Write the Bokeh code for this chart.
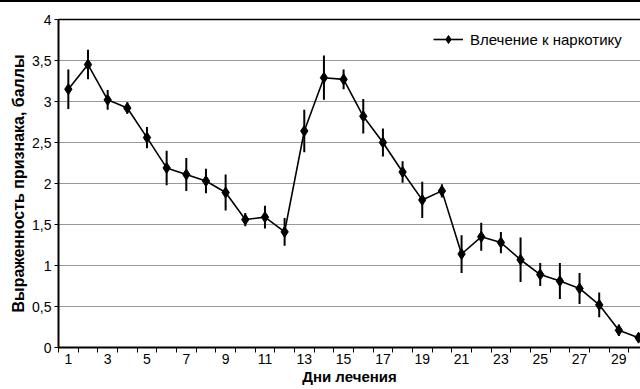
from bokeh.plotting import figure
from bokeh.models import FixedTicker, LinearAxis, CustomJSTickFormatter, Range1d, Legend, LegendItem
from bokeh.embed import file_html
from bokeh.resources import INLINE

days = list(range(1, 31))
means = [3.15, 3.45, 3.02, 2.92, 2.56, 2.19, 2.11, 2.03, 1.89, 1.56,
         1.59, 1.41, 2.64, 3.29, 3.27, 2.82, 2.50, 2.14, 1.80, 1.91,
         1.14, 1.35, 1.28, 1.07, 0.89, 0.81, 0.72, 0.52, 0.21, 0.12]
errors = [0.24, 0.18, 0.12, 0.07, 0.13, 0.21, 0.20, 0.15, 0.22, 0.08,
          0.14, 0.17, 0.26, 0.27, 0.12, 0.21, 0.17, 0.13, 0.22, 0.08,
          0.23, 0.17, 0.13, 0.27, 0.14, 0.22, 0.19, 0.15, 0.07, 0.05]
x_tick_labels = [str(d) for d in range(1, 31, 2)]
y_ticks = [0, 0.5, 1, 1.5, 2, 2.5, 3, 3.5, 4]
series_name = "Влечение к наркотику"
x_title = "Дни лечения"
y_title = "Выраженность признака, баллы"

FONT = "Liberation Sans"

lo = [m - e for m, e in zip(means, errors)]
hi = [m + e for m, e in zip(means, errors)]

p = figure(width=640, height=387, output_backend="svg", toolbar_location=None,
           x_range=Range1d(0.5, 30.1), y_range=Range1d(0, 4),
           min_border_left=58, min_border_top=17, min_border_right=0, min_border_bottom=42)
p.styles = {"border-top": "2px solid black"}
p.outline_line_color = None
p.background_fill_color = "white"
p.border_fill_color = "white"

# error bars
p.segment(x0=days, y0=lo, x1=days, y1=hi, line_color="black", line_width=2)
ln = p.line(days, means, line_color="black", line_width=1.6)
mk = p.scatter(days, means, marker="diamond", size=11, fill_color="black", line_color="black")

# axes
xa = p.xaxis[0]
xa.ticker = FixedTicker(ticks=[int(t) for t in x_tick_labels],
                        minor_ticks=[d + 0.5 for d in range(0, 31)])
xa.major_tick_out = 0
xa.major_tick_in = 0
xa.minor_tick_out = 5
xa.minor_tick_in = 0
xa.minor_tick_line_color = "black"
xa.axis_line_color = "black"
xa.axis_line_width = 2
xa.major_label_text_font = FONT
xa.major_label_text_font_size = "14px"
xa.major_label_text_color = "black"
xa.major_label_standoff = 1
xa.axis_label = x_title
xa.axis_label_text_font = FONT
xa.axis_label_text_font_size = "15px"
xa.axis_label_text_font_style = "bold"
xa.axis_label_text_color = "black"
xa.axis_label_standoff = 1

ya = p.yaxis[0]
ya.ticker = FixedTicker(ticks=y_ticks)
ya.formatter = CustomJSTickFormatter(code="return tick.toString().replace('.', ',');")
ya.major_tick_out = 4
ya.major_tick_in = 0
ya.minor_tick_out = 0
ya.minor_tick_in = 0
ya.major_tick_line_color = "black"
ya.axis_line_color = "black"
ya.axis_line_width = 2
ya.major_label_text_font = FONT
ya.major_label_text_font_size = "14px"
ya.major_label_text_color = "black"
ya.major_label_standoff = 3
ya.axis_label = y_title
ya.axis_label_text_font = FONT
ya.axis_label_text_font_size = "16px"
ya.axis_label_text_font_style = "bold"
ya.axis_label_text_color = "black"
ya.axis_label_standoff = 2

top = LinearAxis(ticker=FixedTicker(ticks=[]), major_label_text_font_size="0px",
                 axis_line_color="black", axis_line_width=1.5,
                 major_tick_line_color=None, minor_tick_line_color=None)
p.add_layout(top, "above")

p.xgrid.grid_line_color = None
p.ygrid.ticker = FixedTicker(ticks=y_ticks)
p.ygrid.grid_line_color = "#999999"
p.ygrid.grid_line_width = 1

legend = Legend(items=[LegendItem(label=series_name, renderers=[ln, mk])],
                location=(375, 298))
legend.border_line_color = None
legend.background_fill_alpha = 0
legend.label_text_font = FONT
legend.label_text_font_size = "15px"
legend.label_text_color = "black"
legend.glyph_width = 30
legend.label_standoff = 7
legend.padding = 0
legend.margin = 0
p.add_layout(legend)

open("out.html", "w").write(file_html(p, INLINE))
